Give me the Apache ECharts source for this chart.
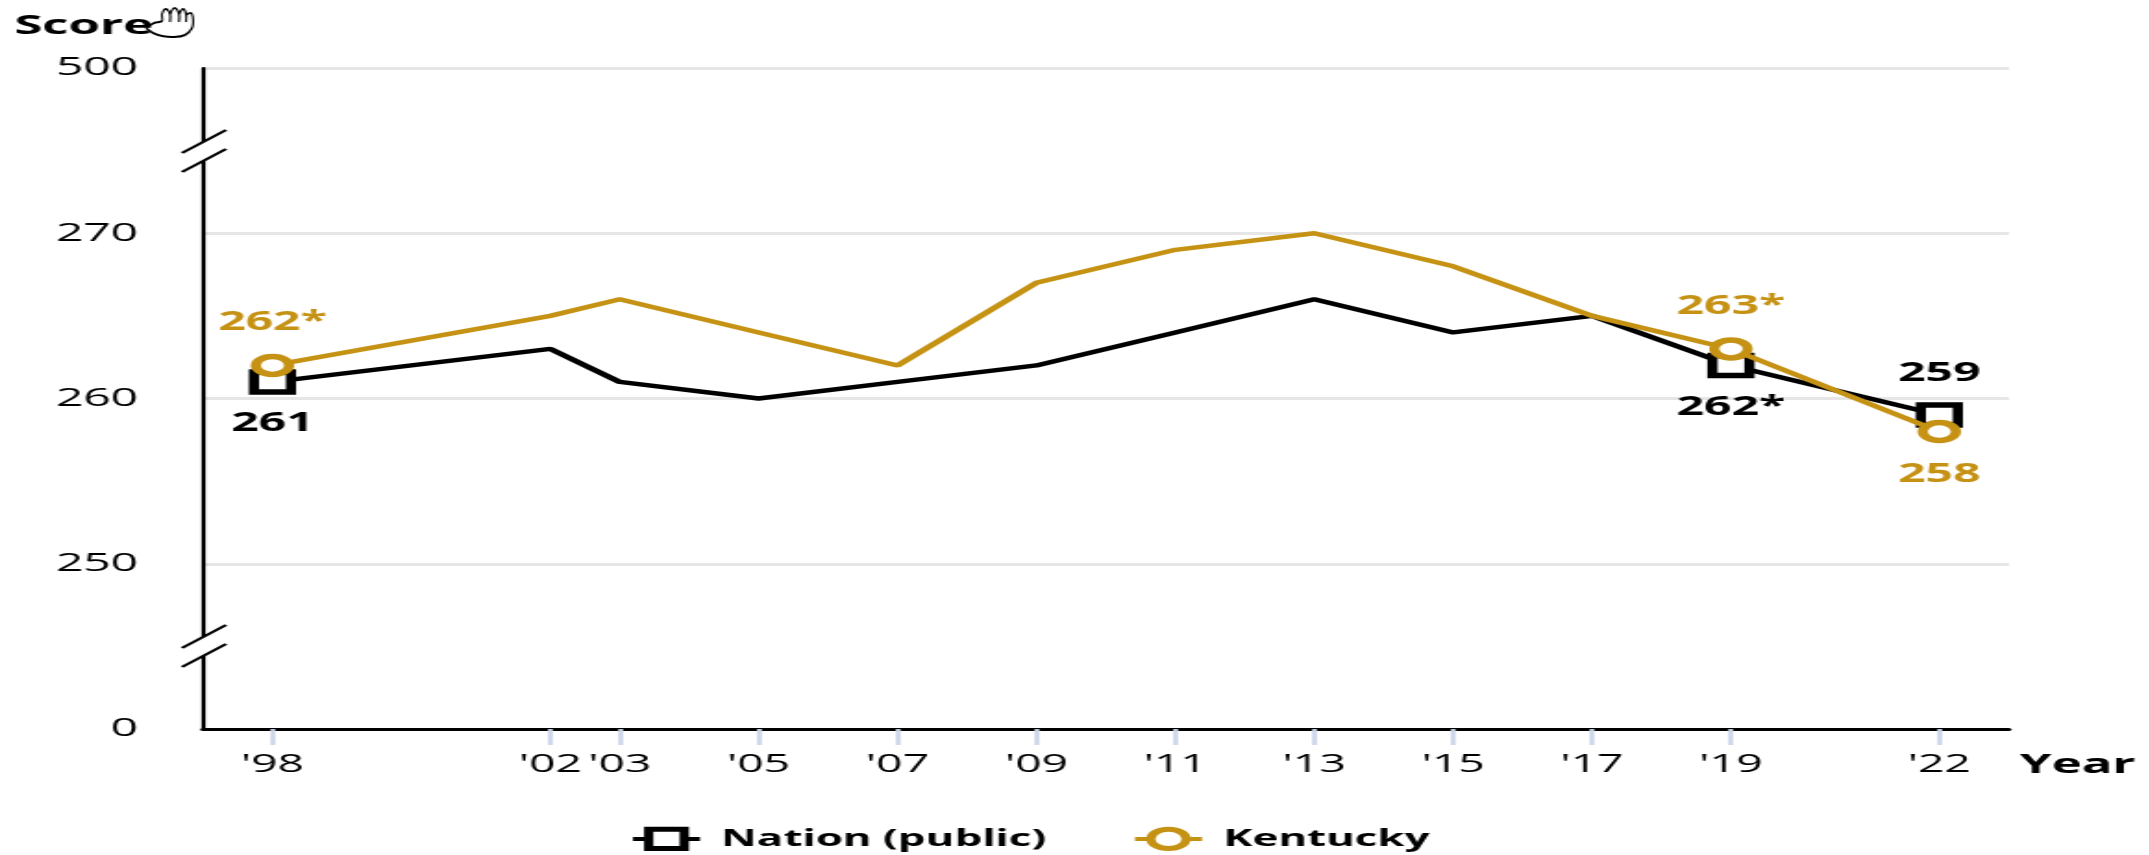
<!DOCTYPE html>
<html><head><meta charset="utf-8">
<style>html,body{margin:0;padding:0;background:#fff;overflow:hidden;width:2149px;height:855px}
#c{width:1161.6px;height:855px;transform:scaleX(1.85);transform-origin:0 0;filter:blur(0.4px)}</style>
<script src="https://cdn.jsdelivr.net/npm/echarts@6/dist/echarts.min.js"></script>
</head><body><div id="c"></div>
<script>
const years=[1998,2002,2003,2005,2007,2009,2011,2013,2015,2017,2019,2022];
const nation=[261,263,261,260,261,262,264,266,264,265,262,259];
const kentucky=[262,265,266,264,262,267,269,270,268,265,263,258];
const nationLabels={1998:"261",2019:"262*",2022:"259"};
const kentuckyLabels={1998:"262*",2019:"263*",2022:"258"};
const nationLabelPos={1998:"bottom",2019:"bottom",2022:"top"};
const kentuckyLabelPos={1998:"top",2019:"top",2022:"bottom"};
const yTickLabels={240:"0",250:"250",260:"260",270:"270",280:"500"};
const S=1.85,F="'Open Sans'",BLACK="#000",GOLD="#c69214";
const X=v=>v/S;
function pts(vals,labels,pos,color,dist){
  return years.map((y,i)=>{
    const o={value:[y,vals[i]]};
    if(labels[y]){o.label={show:true,formatter:labels[y],position:pos[y],distance:dist,color,fontFamily:F,fontWeight:700,fontSize:26};}
    else{o.symbol="none";}
    return o;
  });
}
function breakMark(y){
  const x0=X(182),x1=X(226);
  return [
    {type:"polygon",z:20,shape:{points:[[x0,y+23],[x1,y],[x1,y+19],[x0,y+42]]},style:{fill:"#fff"}},
    {type:"line",z:21,shape:{x1:x0,y1:y+23,x2:x1,y2:y},style:{stroke:BLACK,lineWidth:2}},
    {type:"line",z:21,shape:{x1:x0,y1:y+42,x2:x1,y2:y+19},style:{stroke:BLACK,lineWidth:2}}
  ];
}
const handStroke={stroke:BLACK,lineWidth:2,fill:"none"};
const hand={type:"group",z:30,x:X(145),y:8,scaleX:1/S,children:[
  {type:"polyline",z:30,shape:{smooth:0.35,points:[[1,20],[9,15],[17,13],[17,6],[21,1],[25,6],[25,14]]},style:handStroke},
  {type:"polyline",z:30,shape:{smooth:0.4,points:[[25,6],[29.5,0],[34,6],[34,14]]},style:handStroke},
  {type:"polyline",z:30,shape:{smooth:0.4,points:[[34,6],[38,1],[41,6],[41,14]]},style:handStroke},
  {type:"polyline",z:30,shape:{smooth:0.35,points:[[41,7],[46,5],[48,11],[47,20],[40,27],[29,29],[17,28],[8,25],[1,20]]},style:handStroke}
]};
const chart=echarts.init(document.getElementById("c"),null,{renderer:"canvas"});
chart.setOption({
  animation:false,
  backgroundColor:"#fff",
  textStyle:{fontFamily:F},
  grid:{left:X(203),right:1161.6-X(2008),top:68,bottom:855-729,containLabel:false},
  xAxis:{type:"value",min:1997,max:2023,
    axisLine:{show:true,onZero:false,lineStyle:{color:BLACK,width:3}},
    axisTick:{show:true,customValues:years,length:16,lineStyle:{color:"#cbd6ea",width:2.5}},
    axisLabel:{customValues:years,margin:23,color:BLACK,fontFamily:F,fontSize:25,formatter:v=>"'"+String(v).slice(2)},
    splitLine:{show:false},
    name:"Year",nameLocation:"end",nameGap:6,nameMoveOverlap:false,
    nameTextStyle:{color:BLACK,fontFamily:F,fontWeight:700,fontSize:27.5,verticalAlign:"top",padding:[22,0,0,0]}},
  yAxis:{type:"value",min:240,max:280,interval:10,
    axisLine:{show:true,onZero:false,lineStyle:{color:BLACK,width:2.2}},
    axisTick:{show:false},
    axisLabel:{margin:35,color:BLACK,fontFamily:F,fontSize:26,padding:[7,0,0,0],formatter:v=>yTickLabels[v]},
    splitLine:{show:true,lineStyle:{color:"#e6e6e6",width:3}},
    name:"Score",nameLocation:"end",nameGap:28,
    nameTextStyle:{color:BLACK,fontFamily:F,fontWeight:700,fontSize:27.5,align:"right",padding:[0,27,0,0]}},
  legend:{bottom:-1,left:X(620),itemGap:X(85),itemWidth:X(67),itemHeight:24,
    itemStyle:{color:"#fff",borderWidth:5},lineStyle:{width:4},
    textStyle:{color:BLACK,fontFamily:F,fontWeight:700,fontSize:23.7,padding:[0,0,0,6.5]},
    data:["Nation (public)","Kentucky"]},
  series:[
    {name:"Nation (public)",type:"line",z:3,symbol:"rect",symbolSize:20,showAllSymbol:true,
     lineStyle:{color:BLACK,width:4.4},itemStyle:{color:"#fff",borderColor:BLACK,borderWidth:5.5},
     data:pts(nation,nationLabels,nationLabelPos,BLACK,16)},
    {name:"Kentucky",type:"line",z:4,symbol:"circle",symbolSize:18,showAllSymbol:true,
     lineStyle:{color:GOLD,width:4.4},itemStyle:{color:"#fff",borderColor:GOLD,borderWidth:5.5},
     data:pts(kentucky,kentuckyLabels,kentuckyLabelPos,GOLD,18)}
  ],
  graphic:[...breakMark(130),...breakMark(625),hand]
});
</script></body></html>
